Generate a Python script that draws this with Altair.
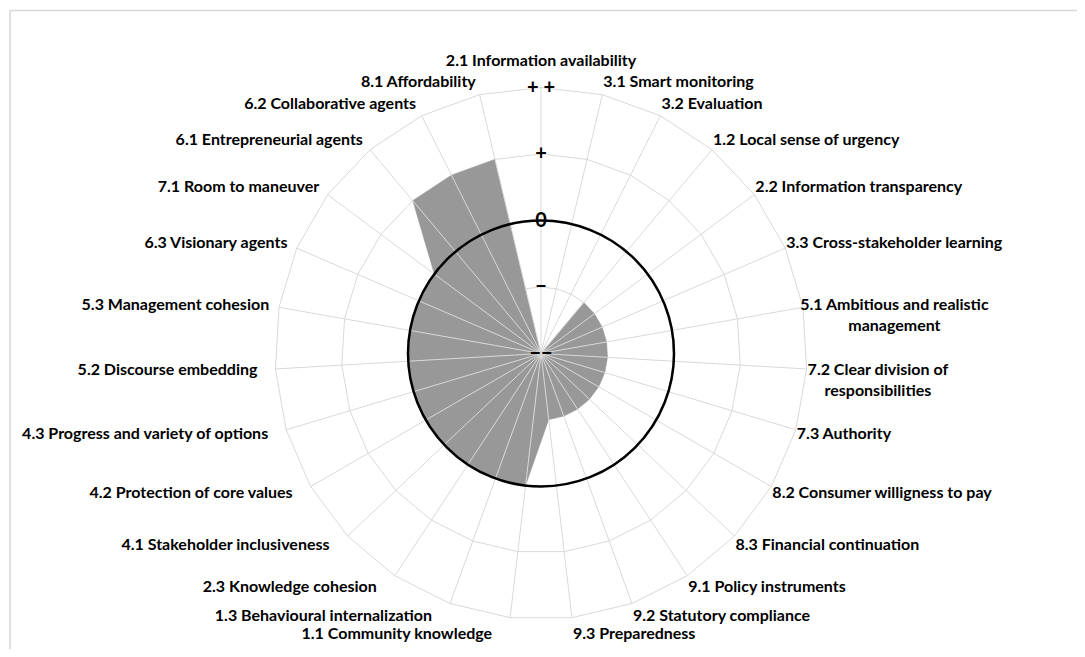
import math
import altair as alt
import pandas as pd

# ---------------- data ----------------
categories = [
    "2.1 Information availability",
    "3.1 Smart monitoring",
    "3.2 Evaluation",
    "1.2 Local sense of urgency",
    "2.2 Information transparency",
    "3.3 Cross-stakeholder learning",
    "5.1 Ambitious and realistic\nmanagement",
    "7.2 Clear division of\nresponsibilities",
    "7.3 Authority",
    "8.2 Consumer willigness to pay",
    "8.3 Financial continuation",
    "9.1  Policy instruments",
    "9.2 Statutory compliance",
    "9.3 Preparedness",
    "1.1 Community knowledge",
    "1.3 Behavioural internalization",
    "2.3 Knowledge cohesion",
    "4.1 Stakeholder inclusiveness",
    "4.2 Protection of core values",
    "4.3 Progress and variety of options",
    "5.2 Discourse embedding",
    "5.3 Management cohesion",
    "6.3 Visionary agents",
    "7.1 Room to maneuver",
    "6.1 Entrepreneurial agents",
    "6.2 Collaborative agents",
    "8.1 Affordability",
]
# score levels: 0 = "−−", 1 = "−", 2 = "0", 3 = "+", 4 = "++"
scores = [0, 0, 0, 1, 1, 1, 1, 1, 1, 1, 1, 1, 1, 1,
          2, 2, 2, 2, 2, 2, 2, 2, 2, 2, 3, 3, 3]
level_values = [0, 1, 2, 3, 4]
level_labels = ["−−", "−", "0", "+", "+ +"]

# ---------------- layout ----------------
N = len(categories)
TOP = max(level_values)
PX = 66.5                      # pixels per level
W, H = 1069, 641
CX, CY = 533, 345.5            # centre in plot pixels
xs = alt.Scale(domain=[-CX / PX, (W - CX) / PX], nice=False, zero=False)
ys = alt.Scale(domain=[-(H - CY) / PX, CY / PX], nice=False, zero=False)

GRID = "#d9d9d9"
FILL = "#989898"
FONT = "Lato"
CHARW = 6.7                    # approx. average glyph width of label font (px)

cat_df = pd.DataFrame({"k": list(range(N)), "cat": categories, "score": scores})
ring_rows = [{"k": k, "lv": lv} for lv in level_values[1:] for k in range(N + 1)]
ring_df = pd.DataFrame(ring_rows)
lev_df = pd.DataFrame({"lv": level_values, "lab": level_labels})

theta_expr = f"datum.k*2*PI/{N}"

def with_angle(ch):
    return ch.transform_calculate(theta=theta_expr).transform_calculate(
        s="sin(datum.theta)", c="cos(datum.theta)")

X = lambda f: alt.X(f, type="quantitative", scale=xs, axis=None)
Y = lambda f: alt.Y(f, type="quantitative", scale=ys, axis=None)

# vertical label offset: 13px outward-vertical, a little extra at the very bottom
LY = f"{TOP}*datum.c + 13/{PX}*datum.c - (datum.c < -0.98 ? 3.5/{PX} : 0)"

# rings (polygonal web)
rings = with_angle(alt.Chart(ring_df)).transform_calculate(
    rx="datum.lv*datum.s", ry="datum.lv*datum.c"
).mark_line(color=GRID, strokeWidth=1).encode(
    x=X("rx"), y=Y("ry"), detail="lv:N", order=alt.Order("k:Q"))

# filled radar polygon
area = with_angle(alt.Chart(cat_df)).transform_calculate(
    px="datum.score*datum.s", py="datum.score*datum.c"
).mark_line(fill=FILL, stroke=FILL, strokeWidth=0.5).encode(
    x=X("px"), y=Y("py"), order=alt.Order("k:Q"))

# spokes
spokes = with_angle(alt.Chart(cat_df)).transform_calculate(
    x0="0", y0="0", x1=f"{TOP}*datum.s", y1=f"{TOP}*datum.c"
).mark_rule(color=GRID, strokeWidth=1).encode(
    x=X("x0"), y=Y("y0"), x2="x1:Q", y2="y1:Q")

# bold zero circle
zero_level = level_values[level_labels.index("0")]
circle = alt.Chart(lev_df).transform_filter(f"datum.lv == {zero_level}").transform_calculate(
    x0="0", y0="0"
).mark_point(shape="circle", filled=False, stroke="black", strokeWidth=2.5,
             size=(2 * zero_level * PX) ** 2, opacity=1).encode(
    x=X("x0"), y=Y("y0"))

# level labels along the vertical spoke
lev_text = alt.Chart(lev_df).transform_calculate(x0="0").mark_text(
    font=FONT, fontWeight="bold", fontSize=20, align="center", baseline="middle",
    color="black").encode(x=X("x0"), y=Y("lv"), text="lab:N")

# category labels
lab_common = dict(font=FONT, fontWeight="bold", fontSize=16, baseline="middle",
                  color="black", lineBreak="\n", lineHeight=21)
top_lab = with_angle(alt.Chart(cat_df)).transform_filter("datum.k == 0").transform_calculate(
    lx="0", ly=f"{TOP} + 27/{PX}"
).mark_text(align="center", **lab_common).encode(x=X("lx"), y=Y("ly"), text="cat:N")

HALF = (N - 1) // 2
right_lab = with_angle(alt.Chart(cat_df)).transform_filter(
    f"datum.k >= 1 && datum.k <= {HALF} && indexof(datum.cat, '\\n') < 0").transform_calculate(
    lx=f"{TOP}*datum.s + 1/{PX}", ly=LY
).mark_text(align="left", **lab_common).encode(x=X("lx"), y=Y("ly"), text="cat:N")

# two-line labels: block starts at the spoke end, lines centred in the block
right_lab2 = with_angle(alt.Chart(cat_df)).transform_filter(
    f"datum.k >= 1 && datum.k <= {HALF} && indexof(datum.cat, '\\n') >= 0").transform_calculate(
    lx=f"{TOP}*datum.s + (1 + 0.5*{CHARW}*indexof(datum.cat, '\\n'))/{PX}",
    ly=LY
).mark_text(align="center", **lab_common).encode(x=X("lx"), y=Y("ly"), text="cat:N")

left_lab = with_angle(alt.Chart(cat_df)).transform_filter(
    f"datum.k > {HALF}").transform_calculate(
    gap="datum.theta < 1.5*PI ? 18 : 2 + 8*abs(datum.s)"
).transform_calculate(
    lx=f"{TOP}*datum.s - datum.gap/{PX}", ly=LY
).mark_text(align="right", **lab_common).encode(x=X("lx"), y=Y("ly"), text="cat:N")

# chart-area border (top and left edges visible)
one = alt.Data(values=[{"a": 1}])
border_v = alt.Chart(one).mark_rule(color="#d6d6d6", strokeWidth=1.5).encode(
    x=alt.value(2), y=alt.value(2.5), y2=alt.value(H))
border_h = alt.Chart(one).mark_rule(color="#d6d6d6", strokeWidth=1.5).encode(
    x=alt.value(2), x2=alt.value(W), y=alt.value(2.5))

chart = alt.layer(
    rings, area, spokes, circle, lev_text, top_lab, right_lab, right_lab2, left_lab,
    border_v, border_h
).properties(
    width=W, height=H, padding=0, autosize=alt.AutoSizeParams(type="none"),
    background="white"
).configure_view(strokeWidth=0, stroke="transparent")

chart.save("out.html", embed_options={"renderer": "svg", "actions": False})
